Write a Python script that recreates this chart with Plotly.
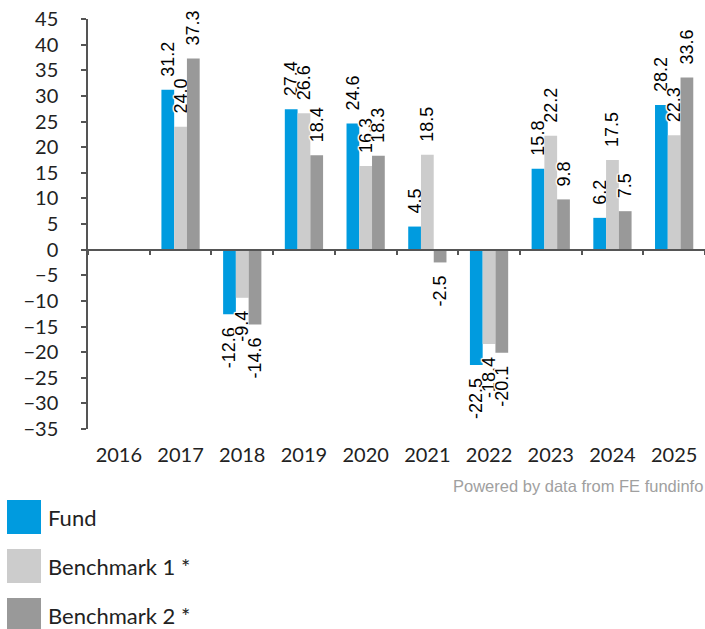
import plotly.graph_objects as go

years = ["2016", "2017", "2018", "2019", "2020", "2021", "2022", "2023", "2024", "2025"]
fund = [None, 31.2, -12.6, 27.4, 24.6, 4.5, -22.5, 15.8, 6.2, 28.2]
bench1 = [None, 24.0, -9.4, 26.6, 16.3, 18.5, -18.4, 22.2, 17.5, 22.3]
bench2 = [None, 37.3, -14.6, 18.4, 18.3, -2.5, -20.1, 9.8, 7.5, 33.6]
series_names = ["Fund", "Benchmark 1 *", "Benchmark 2 *"]
series_colors = ["#009BDF", "#CCCCCC", "#999999"]
y_min, y_max, y_step = -35, 45, 5
credit = "Powered by data from FE fundinfo"

W, H = 705, 629
ML, MR, MT, MB = 88, 0, 19, 200
PW, PH = W - ML - MR, H - MT - MB

NB = "\u00a0"


def labels(vals):
    out = []
    for v in vals:
        if v is None:
            out.append("")
        elif v >= 0:
            out.append(NB * 2 + f"{v:.1f}")
        else:
            out.append(f"{v:.1f}" + NB * 2)
    return out


halo = "1px 1px 1px #fff, -1px -1px 1px #fff, 1px -1px 1px #fff, -1px 1px 1px #fff, 0 1px 1px #fff, 0 -1px 1px #fff, 1px 0 1px #fff, -1px 0 1px #fff"

fig = go.Figure()
for name, vals, col in zip(series_names, [fund, bench1, bench2], series_colors):
    fig.add_trace(go.Bar(
        x=years, y=vals, name=name, marker=dict(color=col, line=dict(width=0)),
        text=labels(vals), textposition="outside", textangle=-90,
        constraintext="none", cliponaxis=False,
        textfont=dict(family="Liberation Sans, Arial", size=18, color="#000", shadow=halo),
        showlegend=False, hoverinfo="x+y+name",
    ))

# helper trace so the bottom label axis knows its categories
fig.add_trace(go.Scatter(x=years, y=[None] * len(years), xaxis="x2", yaxis="y",
                         mode="markers", showlegend=False, hoverinfo="skip"))

zero_pos = (0 - y_min) / (y_max - y_min)
axis_col = "#555555"

fig.update_layout(
    width=W, height=H,
    margin=dict(l=ML, r=MR, t=MT, b=MB),
    paper_bgcolor="white", plot_bgcolor="white",
    barmode="group", bargap=0.38, bargroupgap=0,
    font=dict(family="Lato", color="#222222"),
    xaxis=dict(type="category", anchor="free", position=zero_pos, domain=[0, 1],
               showline=True, linecolor=axis_col, linewidth=1.5,
               ticks="outside", tickson="boundaries", ticklen=5, tickcolor=axis_col,
               tickwidth=1.5, showticklabels=False, showgrid=False, zeroline=False,
               range=[-0.5, len(years) - 0.5]),
    xaxis2=dict(type="category", overlaying="x", anchor="y", side="bottom",
                matches="x", showline=False, ticks="", showgrid=False, zeroline=False,
                showticklabels=True, tickfont=dict(family="Lato", size=20, color="#222222"),
                ticklabelstandoff=12),
    yaxis=dict(range=[y_min, y_max], dtick=y_step, tick0=0, showline=True,
               linecolor=axis_col, linewidth=1.5, ticks="outside", ticklen=5,
               tickcolor=axis_col, tickwidth=1.5, showgrid=False, zeroline=False,
               tickfont=dict(family="Lato", size=20, color="#222222"),
               ticklabelstandoff=19),
    showlegend=False,
)


def px(x):
    return (x - ML) / PW


def py(y):
    return (MT + PH - y) / PH


# legend drawn beneath the chart
leg_top = [500, 549, 598]
for name, col, top in zip(series_names, series_colors, leg_top):
    fig.add_shape(type="rect", xref="paper", yref="paper",
                  x0=px(7), x1=px(41), y0=py(top), y1=py(top + 34),
                  fillcolor=col, line=dict(width=0), layer="above")
    fig.add_annotation(text=name, xref="paper", yref="paper", x=px(46), y=py(top + 17),
                       xanchor="left", yanchor="middle", showarrow=False,
                       font=dict(family="Lato", size=22, color="#222222"))

fig.add_annotation(text=credit, xref="paper", yref="paper", x=1, y=py(486),
                   xanchor="right", yanchor="middle", showarrow=False,
                   font=dict(family="Liberation Sans, Arial", size=16.5, color="#A0A0A0"))

fig.write_html("out.html", config={"displayModeBar": False},
               post_script="document.body.style.margin='0';document.body.style.overflow='hidden';")
